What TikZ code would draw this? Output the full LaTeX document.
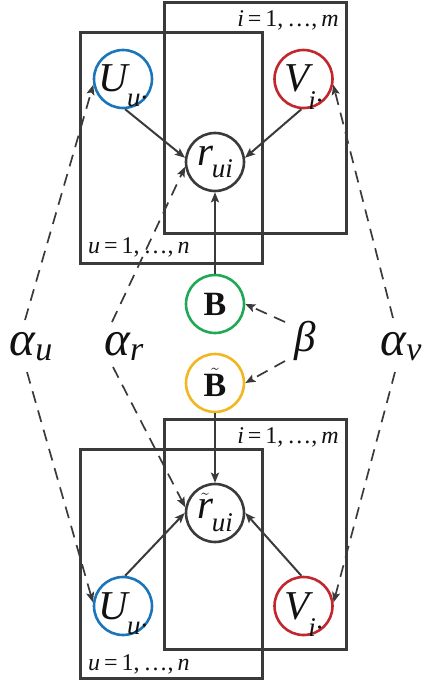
\documentclass[tikz,border=0pt]{standalone}
\usepackage{fontspec}
\setmainfont{LiberationSerif}[Extension=.ttf,UprightFont=*-Regular,ItalicFont=*-Italic,BoldFont=*-Bold,BoldItalicFont=*-BoldItalic]
\usetikzlibrary{arrows.meta}
\definecolor{ublue}{HTML}{1B75BB}
\definecolor{vred}{HTML}{C1272D}
\definecolor{bgreen}{HTML}{1FA855}
\definecolor{byellow}{HTML}{F2B620}
\definecolor{ink}{HTML}{3A3A3A}
\definecolor{txt}{HTML}{111111}
\newcommand{\fs}[1]{\fontsize{#1}{#1}\selectfont}
\newcommand{\var}[4]{\smash{\raisebox{#1}{\fs{41}\itshape #2\kern-1pt\raisebox{#3}{\fs{27}#4}}}}
\newcommand{\plab}[2]{\fs{24}\itshape #1\,{\upshape =}\,{\upshape 1,\,…,}\,#2}
\begin{document}
\begin{tikzpicture}[x=1pt,y=-1pt,
  circ/.style={circle,draw,line width=2.6pt,fill=white,minimum size=58pt,inner sep=0pt,text=txt},
  plate/.style={draw=ink,line width=3pt,inner sep=0pt},
  arr/.style={draw=ink,line width=2pt,-{Stealth[length=10pt,width=8pt,inset=2pt]}},
  darr/.style={draw=ink,line width=1.7pt,dash pattern=on 12pt off 8pt,-{Stealth[length=10pt,width=8pt,inset=2pt]}},
  lab/.style={inner sep=0pt,text=txt},
  greek/.style={inner sep=0pt,text=txt,anchor=base}]
\useasboundingbox (0,0) rectangle (433,685);
% plates top
\node[plate,minimum width=182pt,minimum height=230pt] (pi1) at (255,118) {};
\node[plate,minimum width=182pt,minimum height=230pt] (pu1) at (171,148) {};
% plates bottom
\node[plate,minimum width=182pt,minimum height=230pt] (pi2) at (255,534) {};
\node[plate,minimum width=182pt,minimum height=229pt] (pu2) at (171,563.5) {};
% plate labels
\node[lab,anchor=base east] (li1) at (339,27) {\plab{i}{m}};
\node[lab,anchor=base west] (lu1) at (88,253) {\plab{u}{n}};
\node[lab,anchor=base east] (li2) at (339,443) {\plab{i}{m}};
\node[lab,anchor=base west] (lu2) at (88,670) {\plab{u}{n}};
% circles
\node[circ,draw=ublue] (U1) at (123,79) {\var{-13pt}{U}{-15pt}{u·}};
\node[circ,draw=vred] (V1) at (303.5,79) {\var{-13pt}{V}{-17pt}{i·}};
\node[circ,draw=ink] (r1) at (215,162) {\var{-3pt}{r}{-12pt}{ui}};
\node[circ,draw=bgreen] (B1) at (215,304) {\smash{\raisebox{-11pt}{\fs{34}\bfseries B}}};
\node[circ,draw=byellow] (B2) at (215,383) {\smash{\raisebox{-13pt}{\fs{34}$\tilde{\mbox{\bfseries B}}$}}};
\node[circ,draw=ink] (r2) at (215,513) {\smash{\raisebox{-5pt}{\fs{41}\itshape$\tilde{\mbox{\itshape r}}$\kern-1pt\raisebox{-13pt}{\fs{27}ui}}}};
\node[circ,draw=ublue] (U2) at (123,606) {\var{-13pt}{U}{-15pt}{u·}};
\node[circ,draw=vred] (V2) at (303.5,606) {\var{-13pt}{V}{-17pt}{i·}};
% greek labels
\node[greek] (au) at (31,355) {\fs{49}\itshape α\raisebox{-5pt}{\fs{34}u}};
\node[greek] (ar) at (124,355) {\fs{49}\itshape α\raisebox{-5pt}{\fs{34}r}};
\node[greek] (be) at (305,351) {\fs{43}\itshape β};
\node[greek] (av) at (401,355) {\fs{49}\itshape α\raisebox{-5pt}{\fs{34}v}};
% dashed end points
\coordinate (au1) at (25,320);
\coordinate (au2) at (27,372);
\coordinate (ar1) at (112,322);
\coordinate (ar2) at (113,367);
\coordinate (av1) at (393,318);
\coordinate (av2) at (395,372);
\coordinate (b1) at (285,322);
\coordinate (b2) at (285,361);
% solid arrows
\draw[arr] (U1.-86) -- (r1.172);
\draw[arr] (V1.-94) -- (r1.8);
\draw[arr] (B1.north) -- (r1.south);
\draw[arr] (B2.south) -- (r2.north);
\draw[arr] (U2.86) -- (r2.180);
\draw[arr] (V2.94) -- (r2.0);
% dashed arrows
\draw[darr] (au1) -- (U1.191);
\draw[darr] (au2) -- (U2.173);
\draw[darr] (ar1) -- (r1.189);
\draw[darr] (ar2) -- (r2.169);
\draw[darr] (av1) -- (V1.-11);
\draw[darr] (av2) -- (V2.7);
\draw[darr] (b1) -- (B1.0);
\draw[darr] (b2) -- (B2.0);
\end{tikzpicture}
\end{document}
